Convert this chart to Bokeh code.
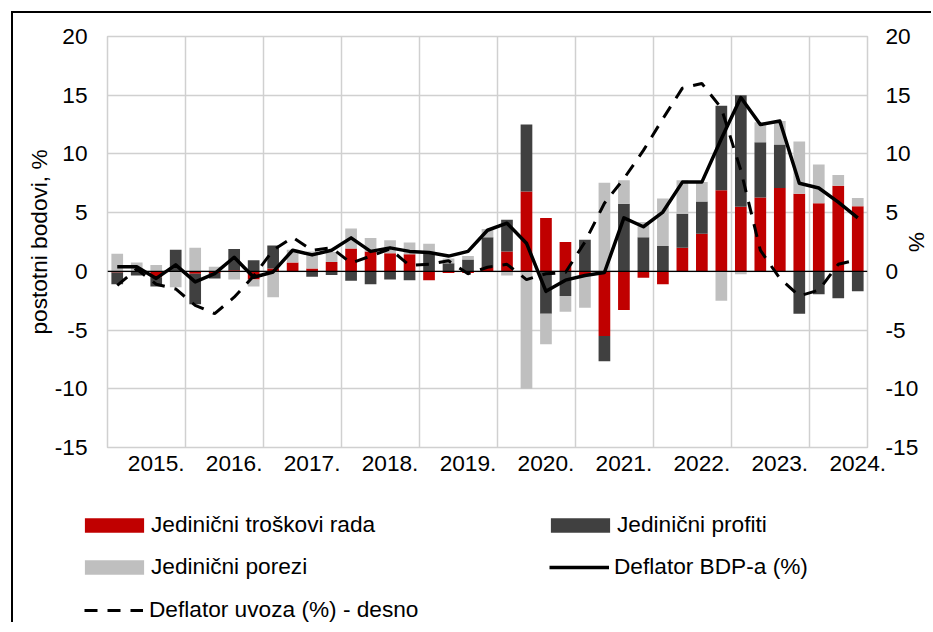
import numpy as np
from bokeh.plotting import figure
from bokeh.layouts import column
from bokeh.models import (ColumnDataSource, Range1d, LinearAxis, FixedTicker,
                          Span, Legend, LegendItem)
from bokeh.embed import file_html
from bokeh.resources import INLINE

# ---------------- data (quarterly, 2015Q1 .. 2024Q3) ----------------
years = ["2015.", "2016.", "2017.", "2018.", "2019.",
         "2020.", "2021.", "2022.", "2023.", "2024."]

labor = [-0.1, 0.0, -0.5, 0.0, -0.2, -0.15, 0.1, -0.7, 0.25, 0.75,
         0.25, 0.8, 1.95, 1.7, 1.55, 1.45, -0.75, -0.15, -0.15, 0.35,
         1.7, 6.8, 4.55, 2.5, -0.3, -5.5, -3.3, -0.55, -1.1, 2.0,
         3.2, 6.9, 5.5, 6.3, 7.1, 6.6, 5.8, 7.3, 5.55]

profits = [-1.0, -0.35, -0.8, 1.85, -2.6, -0.45, 1.8, 0.95, 1.95, 0.0,
           -0.45, -0.3, -0.8, -1.1, -0.7, -0.75, 1.6, 0.7, 1.0, 2.55,
           2.7, 5.7, -3.6, -2.1, 2.7, -2.15, 5.75, 2.9, 2.15, 2.9,
           2.75, 7.2, 9.5, 4.7, 3.7, -3.6, -1.95, -2.3, -1.7]

taxes = [1.5, 0.75, 0.55, -1.35, 2.0, 0.4, -0.7, -0.6, -2.2, 1.1,
         1.45, 0.85, 1.7, 1.15, 1.1, 1.0, 0.75, 0.4, 0.3, 0.7,
         -0.35, -10.0, -2.6, -1.35, -2.8, 7.55, 2.0, 1.3, 4.05, 2.85,
         1.65, -2.5, -0.25, 1.7, 2.0, 4.45, 3.3, 0.9, 0.7]

gdp_deflator = [0.4, 0.4, -0.6, 0.55, -0.9, -0.2, 1.2, -0.5, -0.05, 1.8,
                1.4, 1.8, 2.85, 1.7, 2.0, 1.7, 1.6, 1.3, 1.7, 3.5,
                4.1, 2.4, -1.7, -0.75, -0.35, -0.1, 4.55, 3.8, 5.05, 7.6,
                7.6, 11.3, 14.8, 12.5, 12.8, 7.5, 7.1, 5.9, 4.55]

import_deflator = [-1.2, 0.2, -1.1, -1.5, -2.9, -3.6, -2.2, -0.4, 1.8, 2.9,
                   1.8, 2.0, 0.7, 1.3, 1.9, 0.5, 0.6, 0.9, -0.2, 0.35,
                   0.6, -0.7, -0.2, -0.1, 2.5, 5.8, 7.9, 10.3, 13.0, 15.6,
                   16.0, 13.9, 8.6, 1.8, -0.6, -2.1, -1.6, 0.6, 1.0]

y_ticks = [-15, -10, -5, 0, 5, 10, 15, 20]
y_tick_labels = ["-15", "-10", "-5", "0", "5", "10", "15", "20"]

n = len(labor)
x = list(range(n))

RED = "#C00000"
DARK = "#404040"
LIGHT = "#BFBFBF"
GRID = "#D0D0D0"
FONT = "Liberation Sans"
FS = "17pt"

# main canvas placed at page (13, 13); frame at page x 107..867, y 36..447
CW = 920
CH = 472
FL, FT, FR = 94, 23, 66
FB = CH - FT - 411

p = figure(width=CW, height=CH, x_range=Range1d(-0.5, n - 0.5),
           y_range=Range1d(-15, 20), output_backend="svg",
           toolbar_location=None, min_border_left=FL, min_border_top=FT,
           min_border_right=FR, min_border_bottom=FB, margin=(11, 0, 0, 11))
p.styles = {"border-left": "2px solid black", "border-top": "2px solid black"}
p.background_fill_color = "white"
p.border_fill_color = "white"
p.outline_line_color = GRID
p.outline_line_width = 1.5

p.extra_y_ranges = {"right": Range1d(-15, 20)}

# grids
p.xgrid.ticker = FixedTicker(ticks=[3.5 + 4 * k for k in range(9)])
p.ygrid.ticker = FixedTicker(ticks=y_ticks)
for g in (p.xgrid[0], p.ygrid[0]):
    g.grid_line_color = GRID
    g.grid_line_width = 1.5

def style_axis(ax):
    ax.axis_line_color = None
    ax.major_tick_line_color = None
    ax.minor_tick_line_color = None
    ax.major_tick_out = 0
    ax.major_tick_in = 0
    ax.minor_tick_out = 0
    ax.major_label_text_font = FONT
    ax.major_label_text_font_size = FS
    ax.major_label_text_color = "black"
    ax.axis_label_text_font = FONT
    ax.axis_label_text_font_size = FS
    ax.axis_label_text_font_style = "normal"
    ax.axis_label_text_color = "black"

# x axis
xa = p.xaxis[0]
style_axis(xa)
xa.ticker = FixedTicker(ticks=[2 + 4 * k for k in range(len(years))])
xa.major_label_overrides = {2 + 4 * k: years[k] for k in range(len(years))}
xa.major_label_standoff = 8

# left axis
ya = p.yaxis[0]
style_axis(ya)
ya.ticker = FixedTicker(ticks=y_ticks)
ya.major_label_overrides = dict(zip(y_ticks, y_tick_labels))
ya.major_label_standoff = 20
ya.axis_label = "postotni bodovi, %"
ya.axis_label_standoff = 0

# right axis
ra = LinearAxis(y_range_name="right", ticker=FixedTicker(ticks=y_ticks))
style_axis(ra)
ra.major_label_overrides = dict(zip(y_ticks, y_tick_labels))
ra.major_label_standoff = 18
ra.axis_label = "%"
ra.axis_label_standoff = -17
p.add_layout(ra, "right")

# stacked bars (Excel style: positives up, negatives down)
series = (("Jedinični troškovi rada", labor, RED),
          ("Jedinični profiti", profits, DARK),
          ("Jedinični porezi", taxes, LIGHT))
pos = np.zeros(n)
neg = np.zeros(n)
bar_sources = []
for name, vals, color in series:
    v = np.array(vals, dtype=float)
    bottom = np.where(v >= 0, pos, neg)
    top = bottom + v
    pos = np.where(v >= 0, top, pos)
    neg = np.where(v < 0, top, neg)
    src = ColumnDataSource(dict(x=x, bottom=bottom, top=top))
    bar_sources.append(src)
    p.vbar(x="x", width=0.6, bottom="bottom", top="top", source=src,
           fill_color=color, line_color=None)

p.add_layout(Span(location=0, dimension="width", line_color="black", line_width=1.2))

p.line(x, gdp_deflator, line_color="black", line_width=3.5, line_join="round")
p.line(x, import_deflator, y_range_name="right", line_color="black",
       line_width=3, line_dash="13 10")

# ---------------- legend panel (second canvas, directly below) ----------------
# The legend canvas shows the same series, but its ranges keep the marks out of
# view so that only the legend entries are visible.
LW, LH = CW, 139
lp = figure(width=LW, height=LH, x_range=Range1d(-0.5, n - 0.5),
            y_range=Range1d(1000, 1001),
            output_backend="svg", toolbar_location=None,
            min_border_left=0, min_border_right=0, min_border_top=0,
            min_border_bottom=0, margin=(0, 0, 0, 11))
lp.frame_align = False
lp.styles = {"border-left": "2px solid black"}
lp.axis.visible = False
lp.grid.visible = False
lp.outline_line_color = None
lp.background_fill_color = "white"
lp.border_fill_color = "white"

legend_renderers = []
for (name, vals, color), src in zip(series, bar_sources):
    r = lp.vbar(x="x", width=0.6, bottom="bottom", top="top", source=src,
                fill_color=color, line_color=None)
    legend_renderers.append(r)
lr_gdp = lp.line(x, gdp_deflator, line_color="black", line_width=3.5)
lr_imp = lp.line(x, import_deflator, line_color="black", line_width=3, line_dash="13 10")

PAGE_LEFT = 13
PAGE_BOTTOM = 13 + CH + LH
H = 26
rows = [524, 566, 609]
entries = [
    ("Jedinični troškovi rada", legend_renderers[0], 77, 0, 74, 18, 0),
    ("Jedinični profiti", legend_renderers[1], 543, 0, 74, 18, 0),
    ("Jedinični porezi", legend_renderers[2], 77, 1, 74, 18, 0),
    ("Deflator BDP-a (%)", lr_gdp, 549, 1, 60, H, 5),
    ("Deflator uvoza (%) - desno", lr_imp, 84, 2, 59, H, 6),
]
for label, r, left, row, gw, gh, so in entries:
    vy = PAGE_BOTTOM - (rows[row] + H / 2) - 3
    lg = Legend(items=[LegendItem(label=label, renderers=[r])],
                location=(left - PAGE_LEFT, vy),
                orientation="horizontal", glyph_width=gw, glyph_height=gh,
                label_height=H, label_standoff=so, padding=0, margin=0, spacing=0,
                border_line_color=None, background_fill_alpha=0,
                label_text_font=FONT, label_text_font_size=FS,
                label_text_color="black")
    lp.add_layout(lg, "center")

layout = column(p, lp, spacing=0)
open("out.html", "w").write(file_html(layout, INLINE))
